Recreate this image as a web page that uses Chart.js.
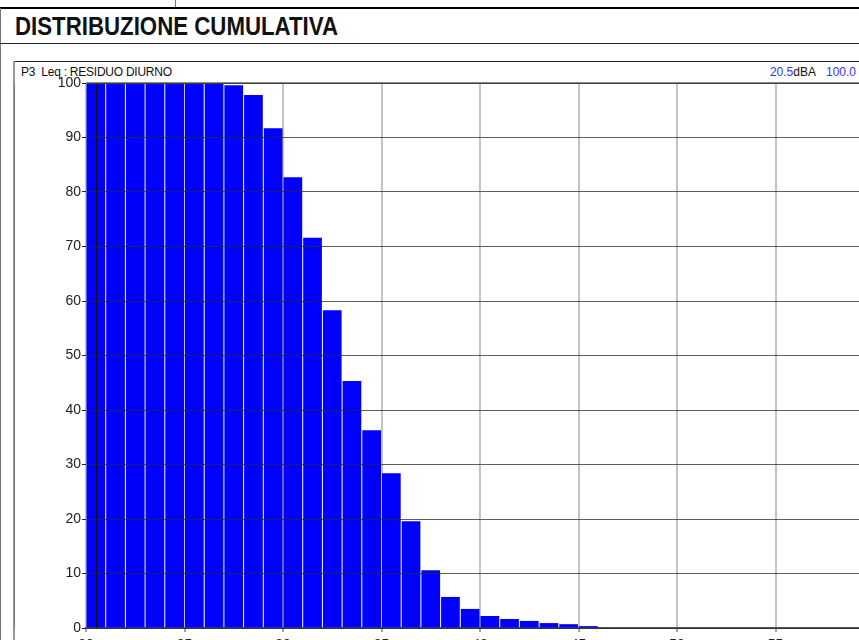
<!DOCTYPE html>
<html>
<head>
<meta charset="utf-8">
<script src="https://cdn.jsdelivr.net/npm/chart.js@4.4.1/dist/chart.umd.min.js"></script>
<style>
  html, body { margin: 0; padding: 0; background: #fff; overflow: hidden; width: 859px; height: 640px; }
  .page { position: relative; width: 859px; height: 640px; overflow: hidden; font-family: "Liberation Sans", Arial, sans-serif; }
  .line { position: absolute; }
  #title { position: absolute; left: 15px; top: 12px; font-family: "Liberation Sans", Arial, sans-serif;
           font-weight: bold; font-size: 25px; color: #111; white-space: nowrap;
           transform: scaleX(0.89); transform-origin: 0 0; }
  #label { position: absolute; left: 21px; top: 65px; font-size: 12px; color: #111; white-space: nowrap; letter-spacing: -0.25px; }
  #cursor { position: absolute; right: 3px; top: 65px; font-size: 12px; color: #111; white-space: nowrap; }
  #cursor .v { color: #3434f0; }
  #wrap { position: absolute; left: 14px; top: 62px; width: 860px; height: 596px; }
</style>
</head>
<body>
<div class="page">
  <!-- header frame -->
  <div class="line" style="left:175px;top:0;width:1px;height:8px;background:#777;"></div>
  <div class="line" style="left:0;top:7px;width:859px;height:2px;background:#000;"></div>
  <div class="line" style="left:0;top:8px;width:1px;height:632px;background:#777;"></div>
  <div class="line" style="left:0;top:43px;width:859px;height:1px;background:#222;"></div>
  <div id="title">DISTRIBUZIONE CUMULATIVA</div>
  <!-- chart box -->
  <div class="line" style="left:14px;top:61px;width:845px;height:1px;background:#222;"></div>
  <div class="line" style="left:13px;top:61px;width:2px;height:579px;background:#999;"></div>
  <div id="label">P3&nbsp; Leq : RESIDUO DIURNO</div>
  <div id="cursor"><span class="v">20.5</span>dBA&nbsp;&nbsp; <span class="v">100.0</span></div>
  <div id="wrap"><canvas id="distChart"></canvas></div>
</div>
<script>
// class lower edges (dBA) and cumulative percentage
const levels = [20, 21, 22, 23, 24, 25, 26, 27, 28, 29, 30, 31, 32, 33, 34, 35, 36, 37, 38, 39, 40, 41, 42, 43, 44, 45];
const cumulative = [100, 100, 100, 100, 100, 100, 100, 99.6, 97.8, 91.7, 82.7, 71.6, 58.3, 45.3, 36.3, 28.4, 19.6, 10.6, 5.7, 3.5, 2.2, 1.65, 1.3, 0.9, 0.7, 0.35];
const xTicks = [20, 25, 30, 35, 40, 45, 50, 55, 60];
const yTicks = [0, 10, 20, 30, 40, 50, 60, 70, 80, 90, 100];
const cursorLevel = 20.5;

const points = levels.map((l, i) => ({ x: l + 0.5, y: cumulative[i] }));

// cursor line + plot top frame drawn over the bars
const overlay = {
    id: 'overlay',
    afterDatasetsDraw(chart) {
        const { ctx, chartArea: a, scales } = chart;
        ctx.save();
        const cx = Math.round(scales.x.getPixelForValue(cursorLevel)) + 0.5;
        ctx.strokeStyle = '#111';
        ctx.lineWidth = 1;
        ctx.beginPath();
        ctx.moveTo(cx, a.top);
        ctx.lineTo(cx, a.bottom);
        ctx.stroke();
        ctx.strokeStyle = '#888';
        ctx.lineWidth = 2;
        ctx.beginPath();
        ctx.moveTo(a.left, a.top);
        ctx.lineTo(a.right + 20, a.top);
        ctx.stroke();
        ctx.restore();
    }
};

new Chart(document.getElementById('distChart'), {
    type: 'bar',
    data: {
        datasets: [{
            data: points,
            backgroundColor: '#0000ff',
            borderWidth: 0,
            barPercentage: 0.95,
            categoryPercentage: 1.0
        }]
    },
    options: {
        responsive: true,
        maintainAspectRatio: false,
        animation: false,
        events: [],
        layout: { padding: { top: 21, right: 0, left: 0, bottom: 0 } },
        plugins: { legend: { display: false }, tooltip: { enabled: false } },
        scales: {
            x: {
                type: 'linear',
                min: 20, max: 60,
                offset: false,
                afterBuildTicks: s => { s.ticks = xTicks.map(v => ({ value: v })); },
                afterFit: s => { s.height = 30; s.paddingRight = 0; s.paddingLeft = 0; },
                grid: { offset: false, color: '#c4c4c4', lineWidth: 2, tickColor: '#444', tickLength: 4, tickWidth: 1, z: 0 },
                border: { color: '#555', width: 2 },
                ticks: { color: '#222', padding: 5, maxRotation: 0, font: { family: "'Liberation Sans', Arial, sans-serif", size: 14 } }
            },
            y: {
                min: 0, max: 100,
                afterBuildTicks: s => { s.ticks = yTicks.map(v => ({ value: v })); },
                afterFit: s => { s.width = 72; },
                grid: { color: 'rgba(40,40,40,0.75)', lineWidth: 1, tickColor: '#222', tickLength: 4, z: 1 },
                border: { color: '#555', width: 1 },
                ticks: { color: '#222', padding: 1, font: { family: "'Liberation Sans', Arial, sans-serif", size: 14 } }
            }
        }
    },
    plugins: [overlay]
});
</script>
</body>
</html>
